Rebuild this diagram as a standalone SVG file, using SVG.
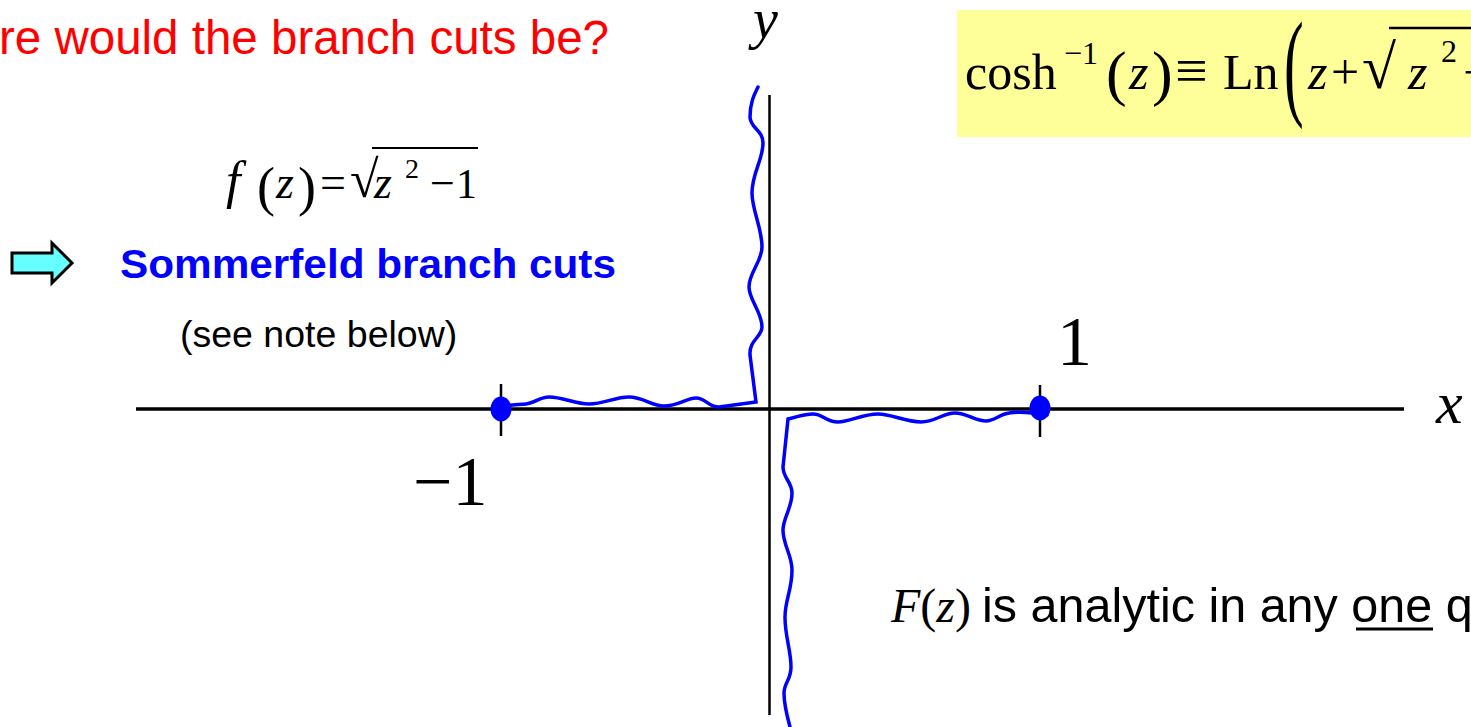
<svg xmlns="http://www.w3.org/2000/svg" width="1471" height="727" viewBox="0 0 1471 727">
<style>
.sans{font-family:"Liberation Sans",Arial,sans-serif}
.serif{font-family:"Liberation Serif","Times New Roman",serif}
.it{font-style:italic}
.axis{stroke:#000;fill:none}
.cut{stroke:#0000FF;stroke-width:3.5;fill:none;stroke-linejoin:miter;stroke-linecap:round}
</style>
<rect width="1471" height="727" fill="#fff"/>
<g id="title">
<text class="sans" x="-1" y="54" font-size="47.5" fill="#FF0000">re would the branch cuts be?</text>
</g>
<g id="formula-top">
<rect x="957" y="10" width="514" height="127" fill="#FFFF99"/>
<text class="serif" font-size="50" y="89" x="965">cosh</text>
<text class="serif" font-size="32" y="64" x="1064">−1</text>
<text class="serif" font-size="62" y="94" x="1106">(</text>
<text class="serif it" font-size="50" y="89" x="1129">z</text>
<text class="serif" font-size="62" y="94" x="1152">)</text>
<text class="serif" font-size="58" y="90" x="1175">≡</text>
<text class="serif" font-size="50" y="89" x="1223">Ln</text>
<text class="serif" font-size="118" transform="translate(1284,104) scale(0.5,1)">(</text>
<text class="serif it" font-size="50" y="89" x="1308">z</text>
<text class="serif" font-size="50" y="89" x="1331">+</text>
<text class="serif" font-size="62" y="88" x="1362">√</text>
<line x1="1389" y1="28" x2="1471" y2="28" stroke="#000" stroke-width="2.5"/>
<text class="serif it" font-size="50" y="89" x="1408">z</text>
<text class="serif" font-size="32" y="62" x="1441">2</text>
<text class="serif" font-size="50" y="89" x="1463">−</text>
</g>
<g id="formula-f">
<text class="serif it" font-size="52" y="198" x="226">f</text>
<text class="serif" font-size="54" y="205" x="257">(</text>
<text class="serif it" font-size="46" y="198" x="276">z</text>
<text class="serif" font-size="54" y="205" x="298">)</text>
<text class="serif" font-size="46" y="198" x="320">=</text>
<text class="serif" font-size="52" y="197" x="350">√</text>
<line x1="372" y1="148" x2="478" y2="148" stroke="#000" stroke-width="2"/>
<text class="serif it" font-size="46" y="198" x="374">z</text>
<text class="serif" font-size="28" y="178" x="405">2</text>
<text class="serif" font-size="44" y="198" x="430">−</text>
<text class="serif" font-size="42" y="198" x="456">1</text>
</g>
<g id="arrow">
<path d="M12,253 H52 V243 L72,263 L52,283 V273 H12 Z" fill="#66FFFF" stroke="#000" stroke-width="3" stroke-linejoin="miter"/>
</g>
<g id="sommerfeld">
<text class="sans" font-weight="bold" font-size="40" x="120" y="278" fill="#0000FF" textLength="496" lengthAdjust="spacingAndGlyphs">Sommerfeld branch cuts</text>
<text class="sans" font-size="37.5" x="180" y="347" fill="#000">(see note below)</text>
</g>
<g id="axes">
<line class="axis" x1="136" y1="409" x2="1404" y2="409" stroke-width="3.5"/>
<line class="axis" x1="769.5" y1="95" x2="769.5" y2="715" stroke-width="2.5"/>
<line class="axis" x1="501" y1="384" x2="501" y2="436" stroke-width="2.5"/>
<line class="axis" x1="1040" y1="385" x2="1040" y2="437" stroke-width="2.5"/>
<text class="serif it" font-size="56" x="753" y="38">y</text>
<text class="serif it" font-size="60" x="1436" y="423">x</text>
<text class="serif" font-size="70" x="1057" y="365">1</text>
<text class="serif" font-size="70" x="413" y="505">−1</text>
</g>
<g id="branch-cuts">
<path class="cut" d="M501,409 C506,404 515,405 526,404 C535,403 540,397 549,397 C563,397 575,404 589,404 C604,404 615,397 629,397 C643,397 652,406 664,406 C678,406 687,398 696,398 C706,398 708,407 719,407 L756,402 L750,355 C749,340 762,337 762,327 C762,312 749,300 749,287 C749,272 762,262 762,247 C762,228 752,210 752,193 C752,173 763,160 763,143 C763,130 750,128 750,117 C750,103 754,95 758,87"/>
<path class="cut" d="M1047,415 C1030,412 1015,412 1009,413 C1000,414 995,421 986,421 C975,421 967,413 955,413 C943,413 935,422 921,422 C905,422 892,414 878,414 C862,414 850,422 838,422 C826,422 823,414 813,414 C803,414 798,417 788,419 L783,467 C783,478 792,482 792,493 C792,508 783,518 783,530 C783,545 792,555 792,570 C792,590 785,600 785,617 C785,637 791,650 791,667 C791,680 784,683 784,693 C784,705 787,716 790,727"/>
<ellipse cx="501" cy="409" rx="10.5" ry="12.5" fill="#0000FF"/>
<ellipse cx="1040" cy="408" rx="10.5" ry="12.5" fill="#0000FF"/>
</g>
<g id="note">
<text class="serif" font-size="48" x="891" y="622"><tspan class="it">F</tspan>(<tspan class="it">z</tspan>)</text>
<text class="sans" font-size="48.5" x="982" y="622">is analytic in any one q</text>
<line x1="1356" y1="629" x2="1433" y2="629" stroke="#000" stroke-width="3"/>
</g>
</svg>
